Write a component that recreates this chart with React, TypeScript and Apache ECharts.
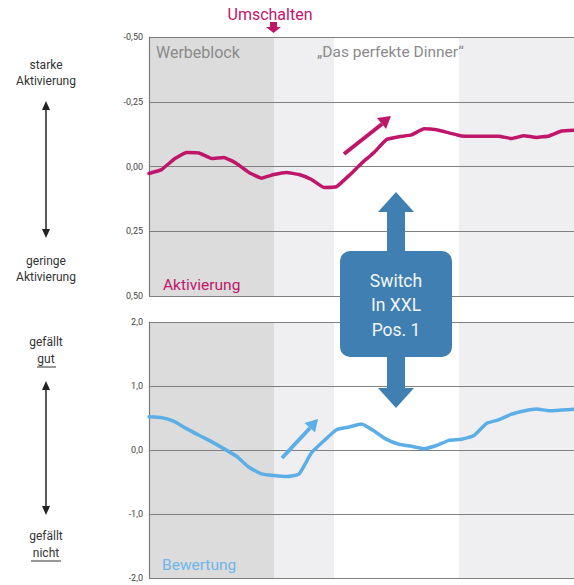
import React, { useEffect, useRef } from "react";
import * as echarts from "echarts";

// Activation (inverted axis: negative = strong activation)
const aktivierung = [
  0.027, 0.012, -0.028, -0.054, -0.052, -0.031, -0.035, -0.012, 0.023, 0.045,
  0.031, 0.023, 0.031, 0.05, 0.081, 0.078, 0.035, -0.012, -0.054, -0.104,
  -0.115, -0.122, -0.146, -0.142, -0.13, -0.118, -0.117, -0.117, -0.117, -0.108,
  -0.119, -0.112, -0.118, -0.137, -0.14,
];
// Rating
const bewertung = [
  0.52, 0.506, 0.448, 0.334, 0.23, 0.131, 0.019, -0.098, -0.27, -0.373,
  -0.4, -0.416, -0.375, -0.044, 0.145, 0.317, 0.359, 0.406, 0.297, 0.166,
  0.09, 0.058, 0.02, 0.07, 0.15, 0.167, 0.227, 0.414, 0.473, 0.56,
  0.61, 0.64, 0.614, 0.625, 0.636,
];
// segment boundaries (sample index): Werbeblock | switch | Dinner | rest
const segmentBreaks = [0, 10, 14.8, 24.8, 34];
const topTicks = [-0.5, -0.25, 0, 0.25, 0.5];
const bottomTicks = [-2, -1, 0, 1, 2];

const MAGENTA = "#c0166a";
const LIGHTBLUE = "#5caee6";
const BOXBLUE = "#3f7fb2";
const bandColors = ["#dcdcdc", "#efeff1", "#ffffff", "#efeff1"];

export default function App() {
  const ref = useRef<HTMLDivElement>(null);
  useEffect(() => {
    if (!ref.current) return;
    const chart = echarts.init(ref.current, undefined, { renderer: "svg" });
    const bands = segmentBreaks.slice(0, -1).map((s, i) => [
      { xAxis: s, itemStyle: { color: bandColors[i] } },
      { xAxis: segmentBreaks[i + 1] },
    ]);
    const font = "Roboto";
    const axisLabel = (dec: number) => ({
      fontSize: 9,
      color: "#444",
      fontFamily: font,
      margin: 6,
      formatter: (v: number) => v.toFixed(dec).replace(".", ","),
    });
    const common = {
      type: "value",
      z: 2,
      axisLine: { show: true, lineStyle: { color: "#7a7a7a", width: 1.2 } },
      axisTick: { show: false },
      splitLine: { show: true, lineStyle: { color: "#808080", width: 1.2 } },
    };
    const txt = (x: number, y: number, text: string, fill: string, size: number, align = "center", weight = "normal") => ({
      type: "text",
      x,
      y,
      style: { text, fill, fontSize: size, fontFamily: font, align, verticalAlign: "middle", fontWeight: weight },
      z: 10,
    });
    const option: any = {
      animation: false,
      backgroundColor: "#ffffff",
      grid: [
        { left: 149, top: 37, width: 425, height: 259 },
        { left: 149, top: 322, width: 425, height: 256 },
      ],
      xAxis: [
        { type: "value", gridIndex: 0, min: 0, max: aktivierung.length - 1, show: false },
        { type: "value", gridIndex: 1, min: 0, max: bewertung.length - 1, show: false },
      ],
      yAxis: [
        { ...common, gridIndex: 0, inverse: true, min: topTicks[0], max: topTicks[topTicks.length - 1], interval: 0.25, axisLabel: axisLabel(2) },
        { ...common, gridIndex: 1, min: bottomTicks[0], max: bottomTicks[bottomTicks.length - 1], interval: 1, axisLabel: axisLabel(1) },
      ],
      series: [
        {
          type: "line", xAxisIndex: 0, yAxisIndex: 0, z: 1, data: [], silent: true,
          markArea: { silent: true, data: bands },
        },
        {
          type: "line", xAxisIndex: 1, yAxisIndex: 1, z: 1, data: [], silent: true,
          markArea: { silent: true, data: bands },
        },
        {
          type: "line", xAxisIndex: 0, yAxisIndex: 0, z: 3, showSymbol: false, smooth: 0.1,
          lineStyle: { color: MAGENTA, width: 3.5, join: "round", cap: "round" },
          data: aktivierung.map((v, i) => [i, v]),
        },
        {
          type: "line", xAxisIndex: 1, yAxisIndex: 1, z: 3, showSymbol: false, smooth: 0.15,
          lineStyle: { color: LIGHTBLUE, width: 3.5, join: "round", cap: "round" },
          data: bewertung.map((v, i) => [i, v]),
        },
      ],
      graphic: [
        // top labels
        txt(270, 14, "Umschalten", MAGENTA, 16),
        { type: "rect", shape: { x: 270, y: 22, width: 7, height: 5 }, style: { fill: MAGENTA }, z: 10 },
        { type: "polygon", shape: { points: [[266, 27], [281, 27], [273.5, 33]] }, style: { fill: MAGENTA }, z: 10 },
        txt(156, 52, "Werbeblock", "#8a8a8a", 16, "left"),
        txt(317, 52, "\u201EDas perfekte Dinner\u201C", "#8a8a8a", 15.5, "left"),
        txt(163, 285, "Aktivierung", MAGENTA, 15.5, "left"),
        txt(162, 565, "Bewertung", "#6cb6ea", 15.5, "left"),
        // left labels
        txt(46, 65, "starke", "#333", 12),
        txt(46, 81, "Aktivierung", "#333", 12),
        txt(46, 261, "geringe", "#333", 12),
        txt(46, 277, "Aktivierung", "#333", 12),
        txt(46, 342, "gefällt", "#333", 12),
        txt(46, 359, "gut", "#333", 12),
        { type: "line", shape: { x1: 37, y1: 367, x2: 56, y2: 367 }, style: { stroke: "#333", lineWidth: 1 }, z: 10 },
        txt(46, 536, "gefällt", "#333", 12),
        txt(46, 553, "nicht", "#333", 12),
        { type: "line", shape: { x1: 31, y1: 561, x2: 61, y2: 561 }, style: { stroke: "#333", lineWidth: 1 }, z: 10 },
        // left double arrows
        { type: "line", shape: { x1: 46, y1: 108, x2: 46, y2: 232 }, style: { stroke: "#222", lineWidth: 1.5 }, z: 10 },
        { type: "polygon", shape: { points: [[46, 101], [42, 110], [50, 110]] }, style: { fill: "#222" }, z: 10 },
        { type: "polygon", shape: { points: [[46, 238], [42, 229], [50, 229]] }, style: { fill: "#222" }, z: 10 },
        { type: "line", shape: { x1: 46, y1: 388, x2: 46, y2: 508 }, style: { stroke: "#222", lineWidth: 1.5 }, z: 10 },
        { type: "polygon", shape: { points: [[46, 381], [42, 390], [50, 390]] }, style: { fill: "#222" }, z: 10 },
        { type: "polygon", shape: { points: [[46, 515], [42, 506], [50, 506]] }, style: { fill: "#222" }, z: 10 },
        // magenta trend arrow
        { type: "line", shape: { x1: 344, y1: 154, x2: 382, y2: 124 }, style: { stroke: MAGENTA, lineWidth: 4 }, z: 10 },
        { type: "polygon", shape: { points: [[391, 116], [386, 129], [377, 118]] }, style: { fill: MAGENTA }, z: 10 },
        // blue trend arrow
        { type: "line", shape: { x1: 282, y1: 458, x2: 310, y2: 428 }, style: { stroke: LIGHTBLUE, lineWidth: 4 }, z: 10 },
        { type: "polygon", shape: { points: [[318, 419], [315, 432.5], [304.5, 423]] }, style: { fill: LIGHTBLUE }, z: 10 },
        // big callout
        { type: "polygon", shape: { points: [[396, 192], [378, 212], [414, 212]] }, style: { fill: BOXBLUE }, z: 11 },
        { type: "rect", shape: { x: 387, y: 211, width: 18, height: 42 }, style: { fill: BOXBLUE }, z: 11 },
        { type: "rect", shape: { x: 340, y: 251, width: 112, height: 106, r: 10 }, style: { fill: BOXBLUE }, z: 11 },
        { type: "rect", shape: { x: 387, y: 355, width: 18, height: 35 }, style: { fill: BOXBLUE }, z: 11 },
        { type: "polygon", shape: { points: [[378, 388], [414, 388], [396, 408]] }, style: { fill: BOXBLUE }, z: 11 },
        {
          type: "text", x: 396, y: 305, z: 12,
          style: {
            text: "Switch\nIn XXL\nPos. 1", fill: "#f2f6fa", fontSize: 17.5, fontFamily: font,
            align: "center", verticalAlign: "middle", lineHeight: 24.5,
          },
        },
      ],
    };
    chart.setOption(option);
    return () => chart.dispose();
  }, []);
  return (
    <div
      ref={ref}
      style={{ position: "absolute", left: 0, top: 0, width: 574, height: 585 }}
    />
  );
}
